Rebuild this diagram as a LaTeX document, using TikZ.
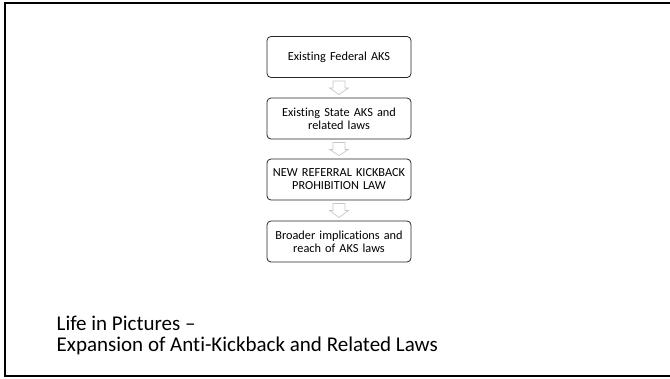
\documentclass[tikz,border=0pt]{standalone}
\usepackage{fontspec}
\setmainfont{Carlito}[RawFeature=-liga]
\usetikzlibrary{calc}
\begin{document}
\begin{tikzpicture}[x=1pt,y=-1pt,
  stage/.style={draw=black!85, line width=0.8pt, rounded corners=4pt,
    minimum width=144pt, minimum height=41pt, align=center,
    font=\fontsize{12.3}{13}\selectfont, text width=142pt, inner xsep=0pt},
  flowarrow/.style={draw=black!22, fill=white, line width=0.7pt, line join=miter},
  slidetitle/.style={anchor=base west, font=\fontsize{21}{22}\selectfont, inner sep=0pt}]
  \useasboundingbox (0,0) rectangle (670,378);
  \fill[white] (0,0) rectangle (670,378);
  % slide frame
  \draw[line width=2.2pt] (672,3) -- (5,3) -- (5,376) -- (672,376);

  \node[stage] (s1) at (339,57) {Existing Federal AKS};
  \node[stage] (s2) at (339,118.5) {Existing State AKS and\\related laws};
  \node[stage] (s3) at (339,179.5) {NEW REFERRAL KICKBACK\\PROHIBITION LAW};
  \node[stage] (s4) at (339,241.5) {Broader implications and\\reach of AKS laws};

  % hollow block arrows between consecutive stages
  \foreach \u/\v in {s1/s2,s2/s3,s3/s4}{
    \draw[flowarrow] ($(\u.south)+(-6,3)$) -- ($(\u.south)+(-6,10)$)
      -- ($(\u.south)+(-9.5,10)$) -- ($(\v.north)+(0,-3)$)
      -- ($(\u.south)+(9.5,10)$) -- ($(\u.south)+(6,10)$)
      -- ($(\u.south)+(6,3)$) -- cycle;
  }

  \node[slidetitle] (t1) at (56.5,330) {Life in Pictures –};
  \node[slidetitle] (t2) at (56.5,351) {Expansion of Anti-Kickback and Related Laws};
\end{tikzpicture}
\end{document}
